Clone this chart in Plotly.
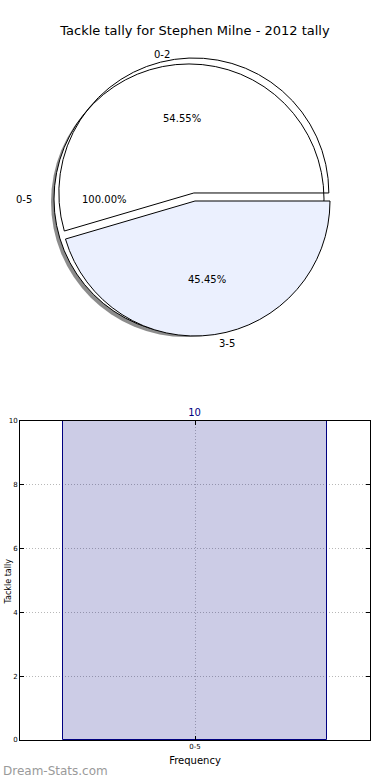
import numpy as np
import plotly.graph_objects as go

# ---------------- data ----------------
chart_title = "Tackle tally for Stephen Milne - 2012 tally"
outer_labels = ["0-5"]
outer_values = [10]
inner_labels = ["0-2", "3-5"]
inner_values = [6, 5]
bar_categories = ["0-5"]
bar_values = [10]
y_tick_values = [0, 2, 4, 6, 8, 10]
x_axis_title = "Frequency"
y_axis_title = "Tackle tally"
watermark = "Dream-Stats.com"

# ---------------- geometry / style ----------------
W, H = 390, 780
FONT = "DejaVu Sans"
R = 135                 # drawn pie radius (px)
RX, RY = 141, 129       # text layout radii (px)
A_cx, A_cy = 189, 199   # centre of the full pie (px)
B_cx, B_cy = 195, 201   # centre of the split pie (px)
PULL = 0.06


def dom(cx, cy, half):
    return dict(x=[(cx - half) / W, (cx + half) / W],
                y=[1 - (cy + half) / H, 1 - (cy - half) / H])


def start_rotation(values):
    # first slice starts at 3 o'clock and runs counter-clockwise (matplotlib style)
    return 90 - values[0] / float(sum(values)) * 360


fig = go.Figure()

common = dict(direction="counterclockwise", sort=False,
              textinfo="none", showlegend=False, hoverinfo="label+percent")

# shadow of the full pie
fig.add_trace(go.Pie(labels=outer_labels, values=outer_values,
                     rotation=start_rotation(outer_values),
                     domain=dom(A_cx - 3, A_cy + 3, R),
                     marker=dict(colors=["rgba(0,0,0,0.45)"], line=dict(width=0)),
                     **common))
# full pie
fig.add_trace(go.Pie(labels=outer_labels, values=outer_values,
                     rotation=start_rotation(outer_values),
                     domain=dom(A_cx, A_cy, R),
                     marker=dict(colors=["white"], line=dict(color="black", width=1)),
                     **common))
# split pie
pulls = [PULL, 0]
fig.add_trace(go.Pie(labels=inner_labels, values=inner_values,
                     rotation=start_rotation(inner_values),
                     domain=dom(B_cx, B_cy, R * (1 + PULL)), pull=pulls,
                     marker=dict(colors=["rgba(255,255,255,0)", "#EBF0FE"],
                                 line=dict(color="black", width=1)),
                     **common))

annotations = []


def pie_texts(labels, values, cx, cy, explode):
    total = float(sum(values))
    start = 0.0
    for lab, v, ex in zip(labels, values, explode):
        span = v / total * 360.0
        mid = np.radians(start + span / 2)
        c, s = np.cos(mid), np.sin(mid)
        lx = cx + c * RX * (1.1 + ex)
        ly = cy - s * RY * (1.1 + ex)
        annotations.append(dict(x=lx / W, y=1 - ly / H, xref="paper", yref="paper",
                                text=lab, showarrow=False,
                                xanchor="right" if c < 0 else "left", yanchor="middle",
                                font=dict(size=10, color="black", family=FONT)))
        px = cx + c * RX * (0.6 + ex)
        py = cy - s * RY * (0.6 + ex)
        annotations.append(dict(x=px / W, y=1 - py / H, xref="paper", yref="paper",
                                text=f"{v / total * 100:.2f}%", showarrow=False,
                                xanchor="center", yanchor="middle",
                                font=dict(size=10, color="black", family=FONT)))
        start += span


pie_texts(outer_labels, outer_values, A_cx, A_cy, [0])
pie_texts(inner_labels, inner_values, 195, 203, pulls)

# ---------------- bar chart ----------------
fig.add_trace(go.Bar(x=bar_categories, y=bar_values, width=0.8,
                     marker=dict(color="rgba(0,0,128,0.2)",
                                 line=dict(color="#000080", width=1)),
                     text=[str(v) for v in bar_values], textposition="outside",
                     textfont=dict(color="#000080", size=10, family=FONT),
                     cliponaxis=False, showlegend=False, xaxis="x", yaxis="y"))

axis_common = dict(showline=True, linecolor="black", linewidth=1, mirror="ticks",
                   ticks="inside", ticklen=4, tickcolor="black", automargin=False,
                   showgrid=True, gridcolor="#b8b8b8", griddash="1px,2px", gridwidth=1,
                   zeroline=False, tickfont=dict(size=7, color="black", family=FONT))

fig.update_layout(
    width=W, height=H,
    margin=dict(l=0, r=0, t=0, b=0, autoexpand=False),
    paper_bgcolor="white", plot_bgcolor="white",
    font=dict(family=FONT, color="black"),
    title=dict(text=chart_title, x=0.5, xanchor="center", y=1 - 30 / H, yanchor="middle",
               font=dict(size=13, color="black", family=FONT)),
    xaxis=dict(domain=[20 / W, 370 / W], anchor="y", type="category",
               range=[-0.5305, 0.5305],
               title=dict(text=x_axis_title, font=dict(size=10, color="black"), standoff=6),
               **axis_common),
    yaxis=dict(domain=[40 / H, 359 / H], anchor="x", range=[0, 10],
               tickvals=y_tick_values, **axis_common),
    annotations=annotations + [
        dict(x=1 / W, y=1 - 582 / H, xref="paper", yref="paper", text=y_axis_title,
             textangle=-90, showarrow=False, xanchor="left", yanchor="middle",
             font=dict(size=8, color="black", family=FONT)),
        dict(x=1 / W, y=1 - 771 / H, xref="paper", yref="paper", text=watermark,
             showarrow=False, xanchor="left", yanchor="middle",
             font=dict(size=12, color="#9a9a9a", family=FONT)),
    ],
    bargap=0,
)

fig.write_html("out.html", config={"displayModeBar": False},
               post_script="document.body.style.margin='0';document.body.style.overflow='hidden';")
